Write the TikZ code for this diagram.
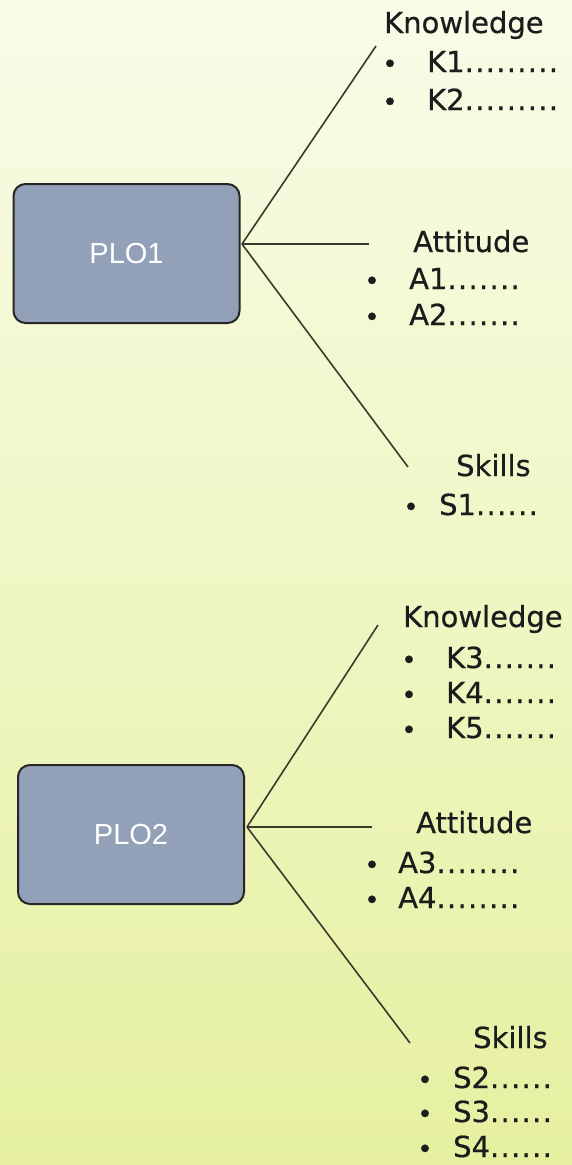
\documentclass[tikz,border=0pt]{standalone}
\usepackage{fontspec}
\setmainfont{DejaVu Sans}[FakeBold=0.6]
\newfontfamily\plofont{Liberation Sans}
\newcommand\widedots[1]{{\addfontfeature{LetterSpace=4.5}#1}}

\definecolor{bgtop}{HTML}{F9FCE8}
\definecolor{bgmid}{HTML}{EBF4AA}
\definecolor{bgbot}{HTML}{E6F0A0}
\definecolor{plofill}{HTML}{93A1B8}
\definecolor{ploedge}{HTML}{262626}
\definecolor{linkcol}{HTML}{3A3A2C}
\definecolor{txtcol}{HTML}{1C1C1C}

\tikzset{
  plobox/.style={draw=ploedge, line width=2pt, fill=plofill, rounded corners=12pt,
    minimum width=226pt, minimum height=139pt, inner sep=0pt,
    font=\plofont\fontsize{29}{34}\selectfont, text=white},
  link/.style={draw=linkcol, line width=1.6pt},
  heading/.style={anchor=base west, inner sep=0pt, text=txtcol,
    font=\fontsize{29}{34}\selectfont},
  item/.style={anchor=base west, inner sep=0pt, text=txtcol,
    font=\fontsize{29}{34}\selectfont},
  bullet/.style={anchor=base, inner sep=0pt, text=txtcol,
    font=\fontsize{26}{30}\selectfont},
}

\begin{document}
\begin{tikzpicture}[x=1pt, y=-1pt]
  % page and background
  \useasboundingbox (0,0) rectangle (572,1165);
  \shade[top color=bgtop, middle color=bgmid, bottom color=bgbot]
    (0,0) rectangle (572,1165);

  % ---------- PLO1 ----------
  \node[plobox] (plo1) at (126.5,253.5) {PLO1};
  \coordinate (o1) at (242,244);

  \node[heading] (k1h) at (384,33) {Knowledge};
  \node[bullet] (k1b1) at (390,73) {•};
  \node[item] (k1i1) at (427,72) {K1\widedots{.........}};
  \node[bullet] (k1b2) at (390,111) {•};
  \node[item] (k1i2) at (427,110) {K2\widedots{.........}};

  \node[heading] (a1h) at (413,252) {Attitude};
  \node[bullet] (a1b1) at (372,290) {•};
  \node[item] (a1i1) at (409,289) {A1\widedots{.......}};
  \node[bullet] (a1b2) at (372,326) {•};
  \node[item] (a1i2) at (409,325) {A2\widedots{.......}};

  \node[heading] (s1h) at (456,476) {Skills};
  \node[bullet] (s1b1) at (411,516) {•};
  \node[item] (s1i1) at (439,515) {S1\widedots{......}};

  \coordinate (e1k) at (376,46);
  \coordinate (e1a) at (369,244);
  \coordinate (e1s) at (408,467);
  \draw[link] (o1) -- (e1k);
  \draw[link] (o1) -- (e1a);
  \draw[link] (o1) -- (e1s);

  % ---------- PLO2 ----------
  \node[plobox] (plo2) at (131,834.5) {PLO2};
  \coordinate (o2) at (247,827);

  \node[heading] (k2h) at (403,627) {Knowledge};
  \node[bullet] (k2b1) at (409,669) {•};
  \node[item] (k2i1) at (446,668) {K3\widedots{.......}};
  \node[bullet] (k2b2) at (409,704) {•};
  \node[item] (k2i2) at (446,703) {K4\widedots{.......}};
  \node[bullet] (k2b3) at (409,739) {•};
  \node[item] (k2i3) at (446,738) {K5\widedots{.......}};

  \node[heading] (a2h) at (416,833) {Attitude};
  \node[bullet] (a2b1) at (372,874) {•};
  \node[item] (a2i1) at (398,873) {A3\widedots{........}};
  \node[bullet] (a2b2) at (372,909) {•};
  \node[item] (a2i2) at (398,908) {A4\widedots{........}};

  \node[heading] (s2h) at (473,1048) {Skills};
  \node[bullet] (s2b1) at (425,1089) {•};
  \node[item] (s2i1) at (453,1088) {S2\widedots{......}};
  \node[bullet] (s2b2) at (425,1123) {•};
  \node[item] (s2i2) at (453,1122) {S3\widedots{......}};
  \node[bullet] (s2b3) at (425,1158) {•};
  \node[item] (s2i3) at (453,1157) {S4\widedots{......}};

  \coordinate (e2k) at (378,625);
  \coordinate (e2a) at (372,827);
  \coordinate (e2s) at (410,1043);
  \draw[link] (o2) -- (e2k);
  \draw[link] (o2) -- (e2a);
  \draw[link] (o2) -- (e2s);
\end{tikzpicture}
\end{document}
